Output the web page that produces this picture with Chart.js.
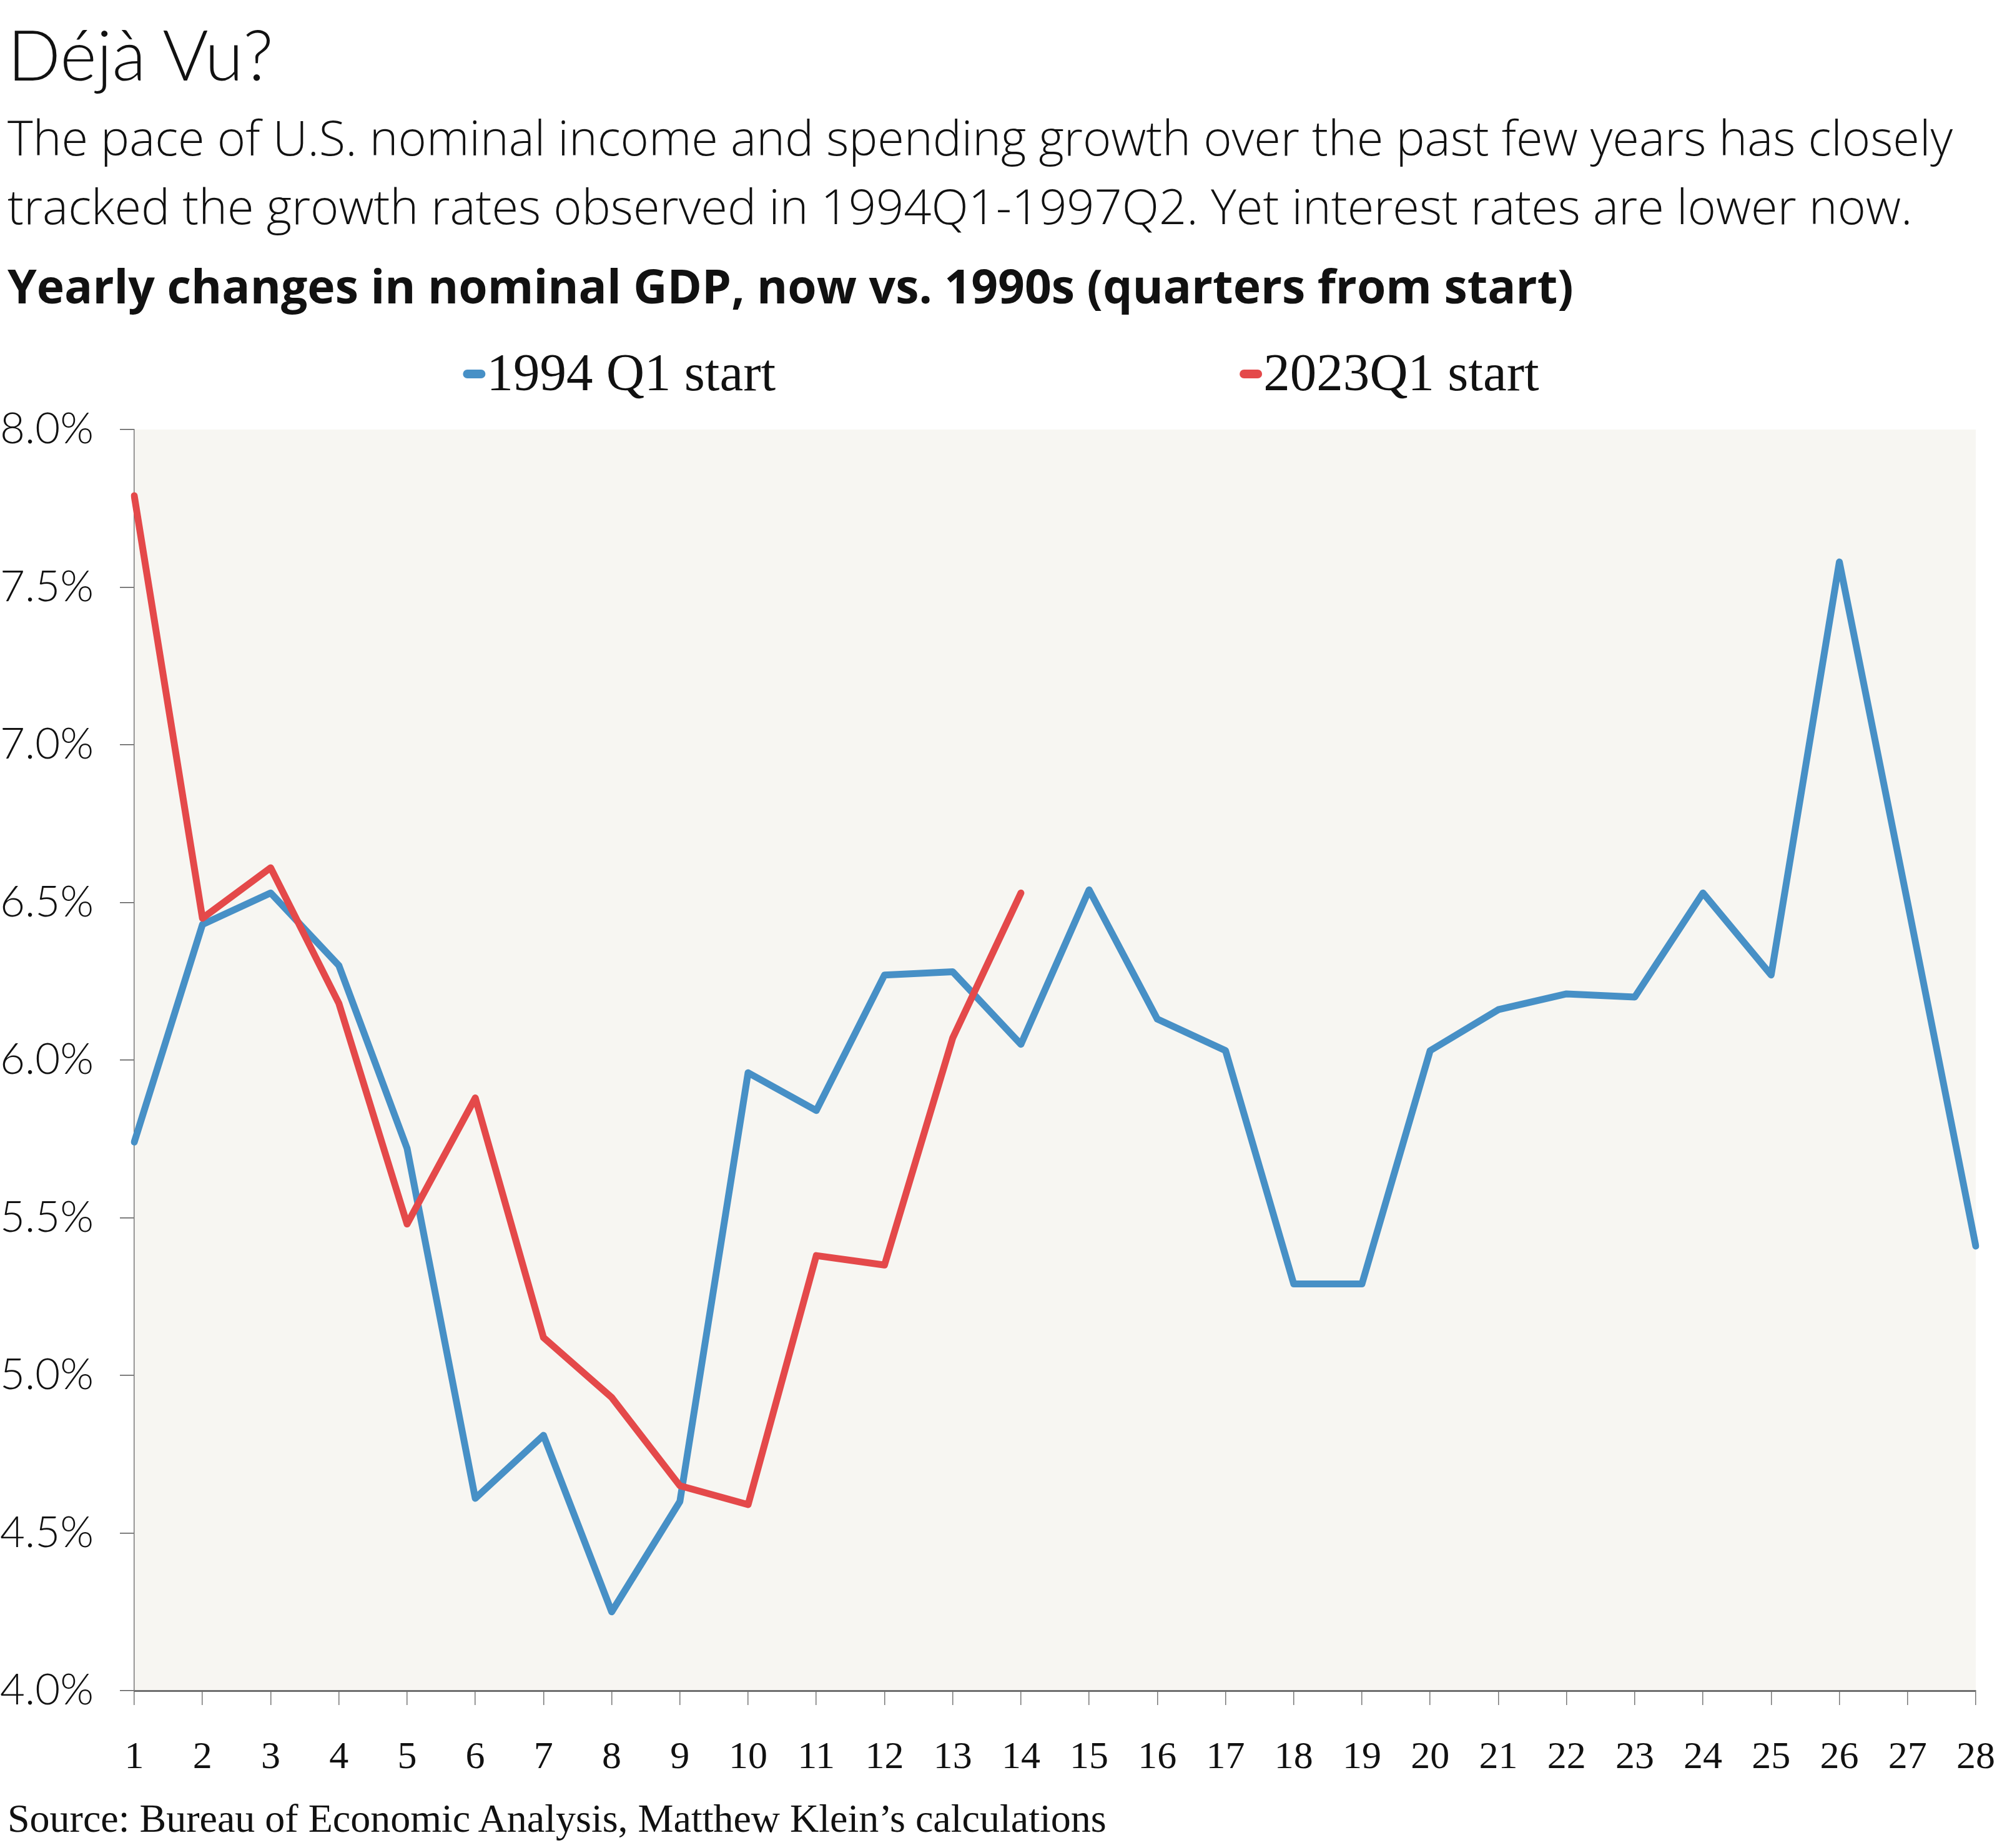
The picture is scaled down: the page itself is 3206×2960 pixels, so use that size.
<!DOCTYPE html>
<html>
<head>
<meta charset="utf-8">
<title>Déjà Vu?</title>
<script src="https://cdn.jsdelivr.net/npm/chart.js@4.4.1/dist/chart.umd.min.js"></script>
<style>
  html, body { margin: 0; padding: 0; background: #fff; }
  body { width: 3206px; height: 2960px; position: relative; overflow: hidden; color: #111; }
  #chart { position: absolute; left: 0; top: 0; }
  .txt { position: absolute; left: 12px; margin: 0; white-space: nowrap; }
  #title { top: 30px; font: 300 112px/112px Lato, sans-serif; }
  #subtitle { top: 164px; font: 300 77.5px/110px "Open Sans", sans-serif; }
  #heading { top: 420px; font: 700 75px/75px "Open Sans", sans-serif; }
  #source { top: 2881px; font: 400 64px/64px "Liberation Serif", serif; }
</style>
</head>
<body>
<canvas id="chart" width="3206" height="2960"></canvas>
<h1 class="txt" id="title">Déjà Vu?</h1>
<p class="txt" id="subtitle">The pace of U.S. nominal income and spending growth over the past few years has closely<br>tracked the growth rates observed in 1994Q1-1997Q2. Yet interest rates are lower now.</p>
<h2 class="txt" id="heading">Yearly changes in nominal GDP, now vs. 1990s (quarters from start)</h2>
<p class="txt" id="source">Source: Bureau of Economic Analysis, Matthew Klein’s calculations</p>
<script>
// quarters from start (x tick labels)
const quarters = ['1', '2', '3', '4', '5', '6', '7', '8', '9', '10', '11', '12', '13', '14',
  '15', '16', '17', '18', '19', '20', '21', '22', '23', '24', '25', '26', '27', '28'];

// yearly change in nominal GDP, %
const growth1994 = [5.74, 6.43, 6.53, 6.30, 5.72, 4.61, 4.81, 4.25, 4.60, 5.96, 5.84, 6.27, 6.28, 6.05,
  6.54, 6.13, 6.03, 5.29, 5.29, 6.03, 6.16, 6.21, 6.20, 6.53, 6.27, 7.58, 6.50, 5.41];
const growth2023 = [7.79, 6.45, 6.61, 6.18, 5.48, 5.88, 5.12, 4.93, 4.65, 4.59, 5.38, 5.35, 6.07, 6.53];

const seriesNames = ['1994 Q1 start', '2023Q1 start'];
const seriesColors = ['#4790c6', '#e4494a'];

const yMin = 4;
const yMax = 8;
const yStep = 0.5;

// light grey fill behind the plot
const plotBackground = {
  id: 'plotBackground',
  beforeDraw(chart) {
    const { ctx, chartArea } = chart;
    ctx.save();
    ctx.fillStyle = '#f7f6f2';
    ctx.fillRect(chartArea.left, chartArea.top, chartArea.right - chartArea.left, chartArea.bottom - chartArea.top);
    ctx.restore();
  }
};

// legend with the two entries far apart, centred on the canvas
const spreadLegend = {
  id: 'spreadLegend',
  afterDraw(chart, args, opts) {
    const ctx = chart.ctx;
    ctx.save();
    ctx.font = opts.labelFont;
    const items = chart.data.datasets.map(ds => ({
      text: ds.label,
      color: ds.borderColor,
      w: opts.boxWidth + opts.boxGap + ctx.measureText(ds.label).width
    }));
    const total = items.reduce((s, it) => s + it.w, 0) + opts.gap * (items.length - 1);
    let x = (chart.width - total) / 2;
    items.forEach(it => {
      ctx.fillStyle = it.color;
      ctx.beginPath();
      ctx.roundRect(x, opts.markY - opts.boxHeight / 2, opts.boxWidth, opts.boxHeight, opts.boxHeight / 2);
      ctx.fill();
      ctx.fillStyle = '#111';
      ctx.textBaseline = 'alphabetic';
      ctx.textAlign = 'left';
      ctx.fillText(it.text, x + opts.boxWidth + opts.boxGap, opts.baseline);
      x += it.w + opts.gap;
    });
    ctx.restore();
  }
};

new Chart(document.getElementById('chart'), {
  type: 'line',
  data: {
    labels: quarters,
    datasets: [
      { label: seriesNames[0], data: growth1994, borderColor: seriesColors[0], order: 1 },
      { label: seriesNames[1], data: growth2023, borderColor: seriesColors[1], order: 0 }
    ]
  },
  options: {
    responsive: false,
    animation: false,
    devicePixelRatio: 1,
    events: [],
    elements: {
      line: { borderWidth: 11, tension: 0, borderCapStyle: 'round', borderJoinStyle: 'round', fill: false },
      point: { radius: 0, hoverRadius: 0 }
    },
    layout: { padding: { top: 688, right: 42, bottom: 112, left: 0 } },
    plugins: {
      legend: { display: false },
      tooltip: { enabled: false },
      spreadLegend: {
        labelFont: '400 85px "Liberation Serif", serif',
        boxWidth: 36,
        boxHeight: 14,
        boxGap: 2,
        gap: 743,
        markY: 599,
        baseline: 625
      }
    },
    scales: {
      x: {
        offset: false,
        grid: { drawOnChartArea: false, drawTicks: true, tickLength: 23, color: '#777', lineWidth: 1.5 },
        border: { color: '#6e6e6e', width: 3 },
        ticks: {
          autoSkip: false, maxRotation: 0, padding: 48, color: '#111',
          font: { family: '"Liberation Serif", serif', size: 62 }
        },
        afterFit(scale) {
          scale.height = 140;
          scale.paddingRight = 0;
        }
      },
      y: {
        min: yMin,
        max: yMax,
        grid: { drawOnChartArea: false, tickLength: 23, color: '#555', lineWidth: 1.5 },
        border: { color: '#777', width: 1.5 },
        ticks: {
          stepSize: yStep, crossAlign: 'far', color: '#111',
          font: { family: 'Lato, sans-serif', size: 69, weight: 300 },
          callback: v => v.toFixed(1) + '%'
        },
        afterFit(scale) { scale.width = 215; }
      }
    }
  },
  plugins: [plotBackground, spreadLegend]
});
</script>
</body>
</html>
